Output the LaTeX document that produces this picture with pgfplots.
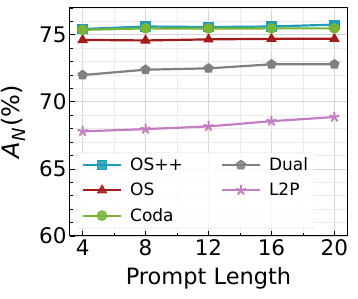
\documentclass[border=0pt]{standalone}
\usepackage{pgfplots}
\pgfplotsset{compat=1.18}
\usepackage{fontspec}
\setmainfont{DejaVu Sans}
\definecolor{cOSpp}{HTML}{1F9CB8}
\definecolor{cOS}{HTML}{A31B1B}
\definecolor{cCoda}{HTML}{77B534}
\definecolor{cDual}{HTML}{808080}
\definecolor{cL2P}{HTML}{C37DC1}
\begin{document}
\begin{tikzpicture}
\path[use as bounding box] (-70pt,-63pt) rectangle (288pt,236pt);
\begin{axis}[
  scale only axis, width=277pt, height=228pt,
  xmin=3.2, xmax=20.8, ymin=60, ymax=77,
  xtick={4,8,12,16,20}, minor xtick={6,10,14,18},
  ytick={60,65,70,75}, minor ytick={61,62,63,64,66,67,68,69,71,72,73,74,76,77},
  tick align=inside, tick pos=left,
  major tick length=5pt, minor tick length=3pt,
  every tick/.style={black, line width=0.8pt},
  grid=both,
  major grid style={line width=0.8pt, draw=black!16},
  minor grid style={line width=0.6pt, draw=black!8},
  axis line style={line width=1pt},
  /pgf/number format/assume math mode=true,
  tick label style={font=\fontsize{21.5}{24}\selectfont},
  label style={font=\fontsize{22.5}{24}\selectfont},
  xlabel={Prompt Length},
  ylabel={\fontsize{24}{26}\selectfont\textit{A}\kern1.5pt\raisebox{-0.25em}{\fontsize{18}{18}\selectfont\textit{N}}\kern1pt(\%)},
  xlabel style={yshift=-5pt},
  ylabel style={yshift=7pt},
  legend columns=2,
  legend cell align=left,
  legend style={at={(0.028,0.035)}, anchor=south west,
    font=\fontsize{17}{20}\selectfont, draw=black!12, rounded corners=2pt,
    fill=white, fill opacity=0.85, text opacity=1,
    inner xsep=4pt, inner ysep=3pt,
    /tikz/every odd column/.style={column sep=6pt},
    /tikz/every even column/.style={column sep=36pt},
    row sep=7pt},
  legend image code/.code={\draw[mark repeat=2,mark phase=2] plot coordinates {(0pt,0pt) (19pt,0pt) (38pt,0pt)};},
  every axis plot/.append style={line width=2.2pt, mark size=4.8pt},
  clip=false,
]
\addplot[color=cOSpp, mark=square*, mark options={line width=1pt}, mark size=4.6pt] coordinates {(4,75.43) (8,75.62) (12,75.58) (16,75.62) (20,75.76)};
\addlegendentry{OS++}
\addplot[color=cDual, mark=pentagon*, mark options={line width=1pt}] coordinates {(4,72.0) (8,72.4) (12,72.5) (16,72.8) (20,72.8)};
\addlegendentry{Dual}
\addplot[color=cOS, mark=triangle*, mark options={line width=1pt}, mark size=5.2pt] coordinates {(4,74.62) (8,74.58) (12,74.66) (16,74.7) (20,74.7)};
\addlegendentry{OS}
\addplot[color=cL2P, mark=star, mark options={line width=2pt}, mark size=5.2pt] coordinates {(4,67.8) (8,67.97) (12,68.17) (16,68.56) (20,68.87)};
\addlegendentry{L2P}
\addplot[color=cCoda, mark=*, mark options={line width=1pt}] coordinates {(4,75.37) (8,75.48) (12,75.47) (16,75.48) (20,75.48)};
\addlegendentry{Coda}
\end{axis}
\end{tikzpicture}
\end{document}
